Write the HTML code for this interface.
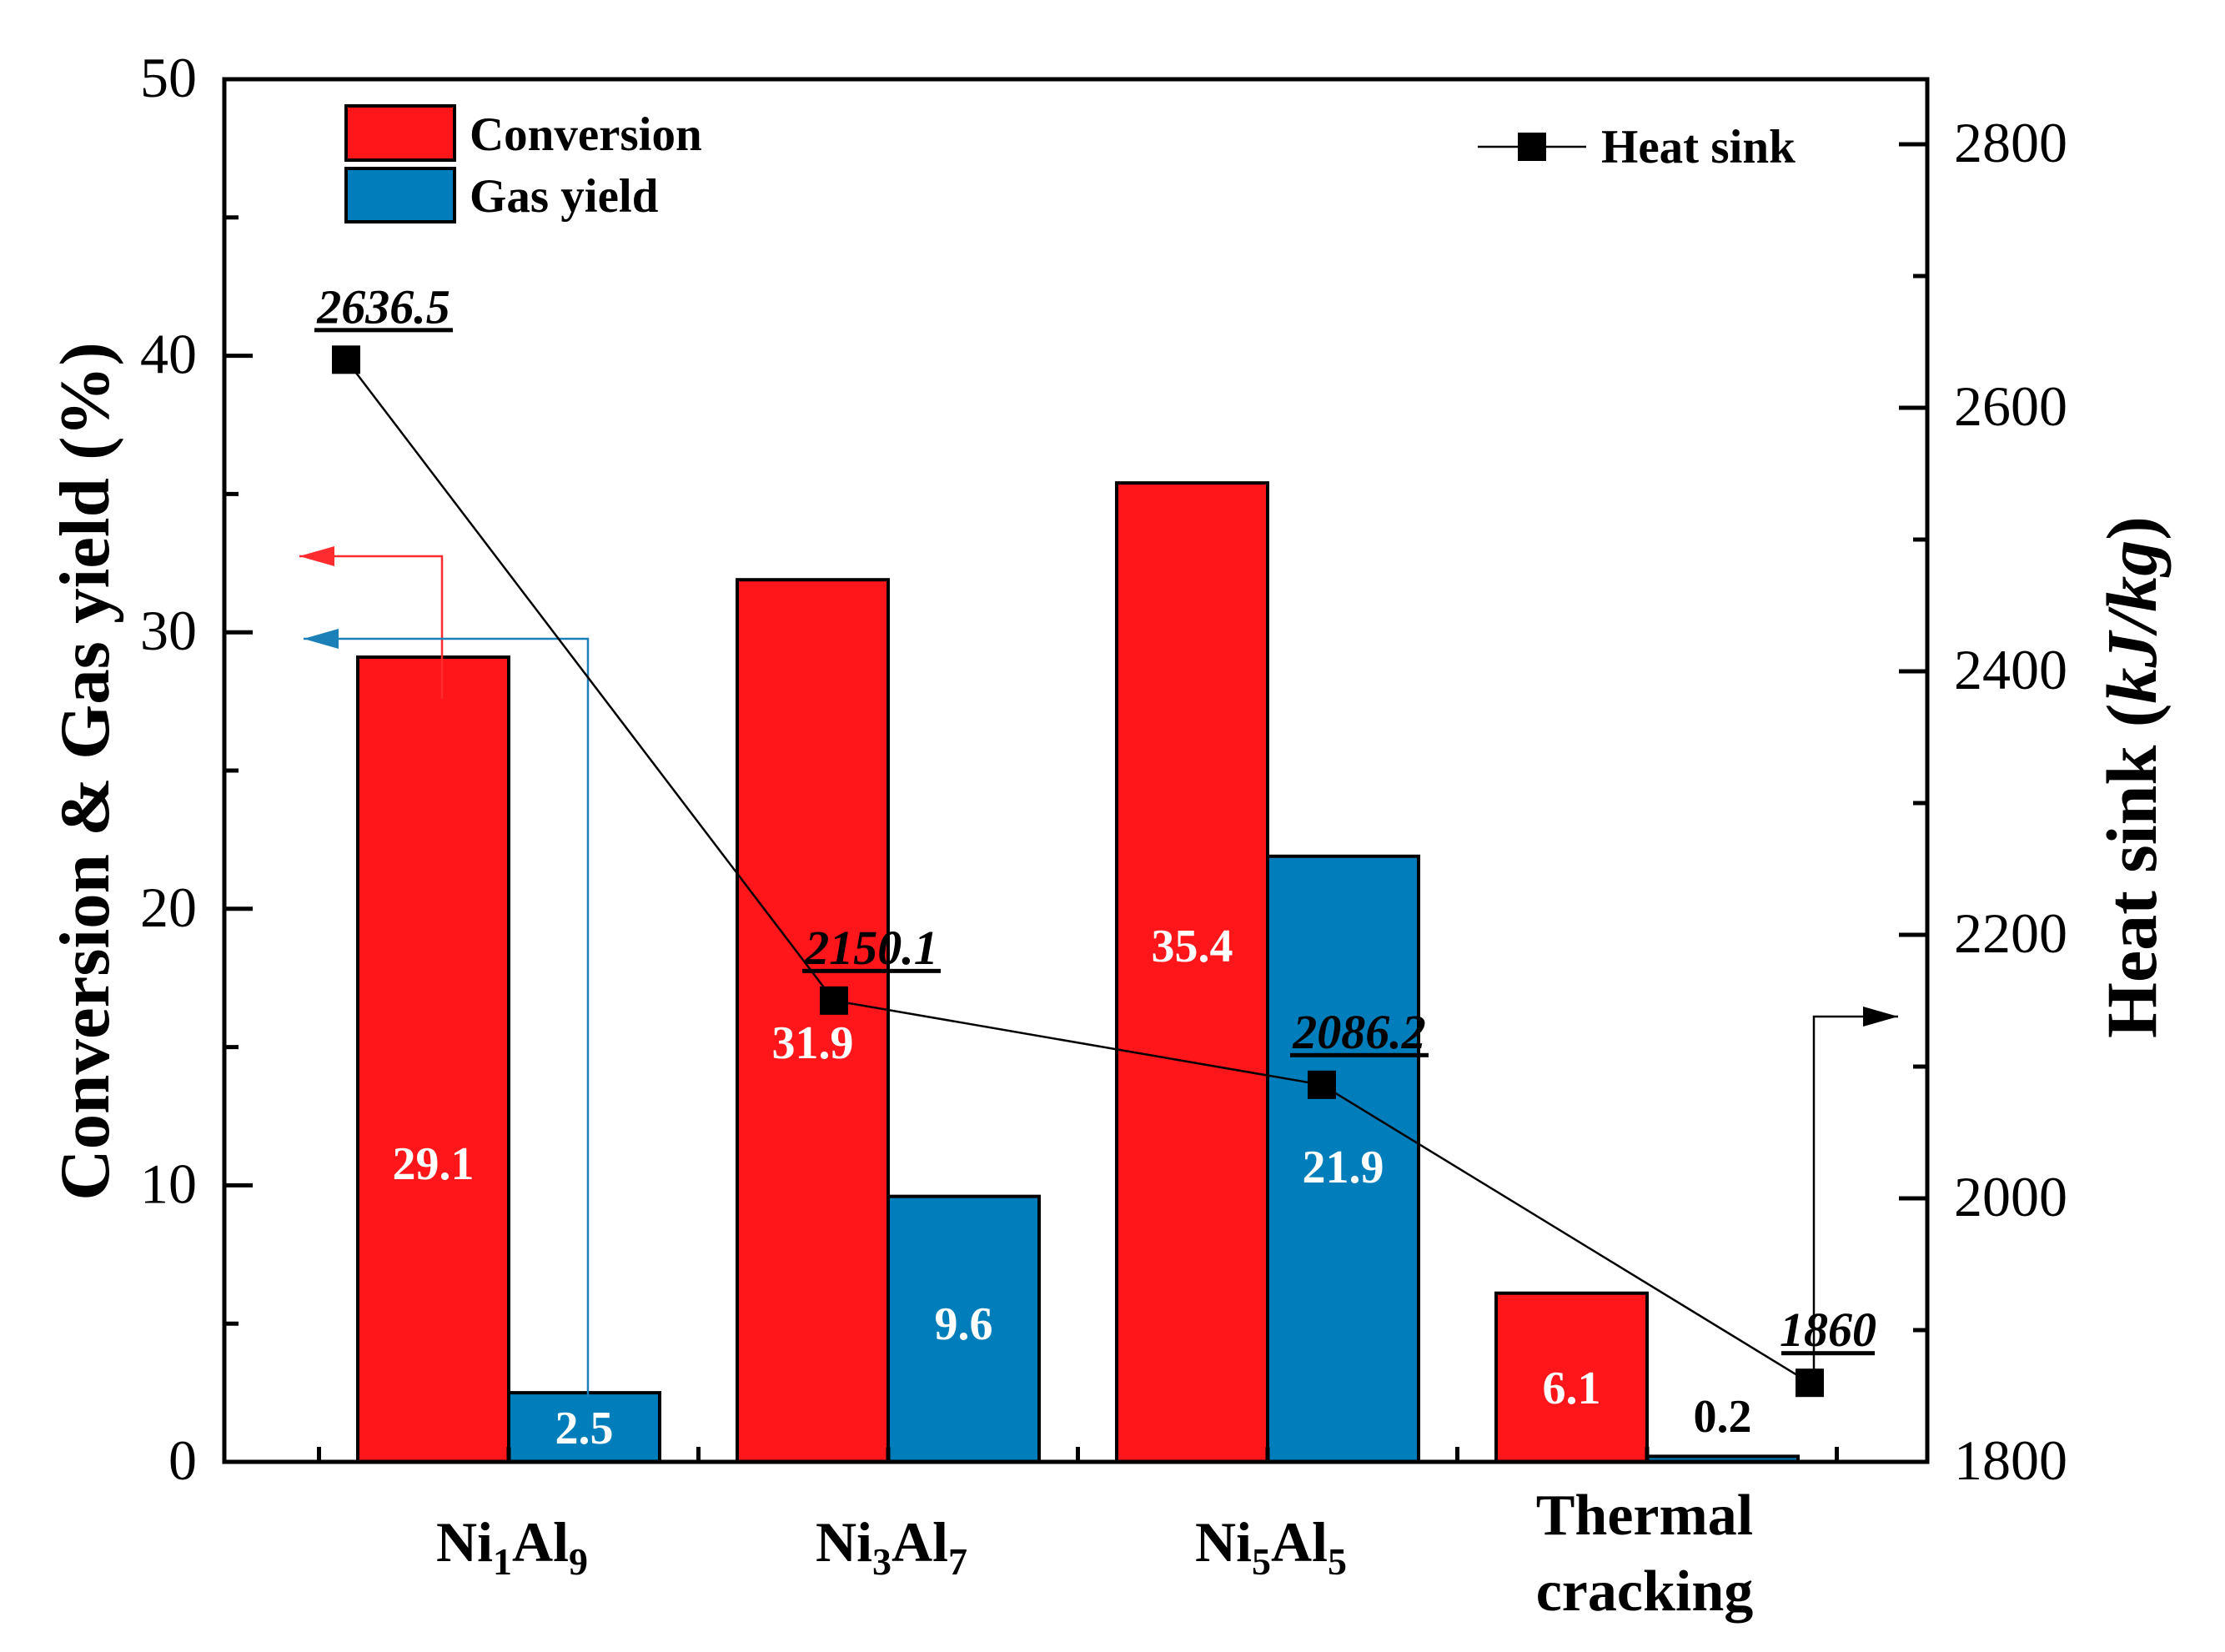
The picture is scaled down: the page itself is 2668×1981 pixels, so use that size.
<!DOCTYPE html>
<html><head><meta charset="utf-8"><style>
html,body{margin:0;padding:0;background:#fff;}
svg{display:block;font-family:"Liberation Serif",serif;}
</style></head><body>
<svg id="chart" width="2668" height="1981" viewBox="0 0 2668 1981">
<g id="g"></g>
</svg>
<script>
const categories = ["Ni1Al9","Ni3Al7","Ni5Al5","Thermal cracking"];
const conversion = [29.1, 31.9, 35.4, 6.1];
const gasYield = [2.5, 9.6, 21.9, 0.2];
const heatSink = [2636.5, 2150.1, 2086.2, 1860];
const heatLabels = ["2636.5","2150.1","2086.2","1860"];
const leftTicks = [0,10,20,30,40,50];
const rightTicks = [1800,2000,2200,2400,2600,2800];

const NS="http://www.w3.org/2000/svg";
const g=document.getElementById('g');
const X0=269, X1=2311, Y0=1753, Y1=95;
function yL(v){return Y0-(v/50)*(Y0-Y1);}
function yR(v){return Y0-(v-1800)/1000*(Y0-173);}
function xC(i){return 610+i*455;}
function xH(i){return 415+i*585;}
function el(t,a,txt){const e=document.createElementNS(NS,t);for(const k in a)e.setAttribute(k,a[k]);if(txt!==undefined)e.textContent=txt;g.appendChild(e);return e;}

const bw=181;
categories.forEach((c,i)=>{
  let r=el('rect',{x:xC(i)-bw,y:yL(conversion[i]),width:bw,height:Y0-yL(conversion[i]),fill:'#fe161b',stroke:'#000','stroke-width':4});
  
  
  let b=el('rect',{x:xC(i),y:yL(gasYield[i]),width:bw,height:Math.max(Y0-yL(gasYield[i]),1),fill:'#007ebb',stroke:'#000','stroke-width':4});
  
  
});
const convLabelY=[1402,1257,1141,1671];
const gasLabelY=[1719,1594,1406,1705];
categories.forEach((c,i)=>{
  let t=el('text',{x:xC(i)-bw/2,y:convLabelY[i]+12,'text-anchor':'middle','font-size':56,'font-weight':'bold',fill:'#fff'},conversion[i].toFixed(1));
  
  
  let u=el('text',{x:xC(i)+bw/2,y:gasLabelY[i]+12,'text-anchor':'middle','font-size':56,'font-weight':'bold',fill:i==3?'#000':'#fff'},gasYield[i].toFixed(1));
  
  
});
function arrow(pts,color,name,dir){
  let p=el('polyline',{points:pts.map(q=>q.join(',')).join(' '),fill:'none',stroke:color,'stroke-width':2.5});
  
  
  const e=pts[pts.length-1];
  let h=dir<0?`${e[0]},${e[1]} ${e[0]+42},${e[1]-12} ${e[0]+42},${e[1]+12}`:`${e[0]},${e[1]} ${e[0]-42},${e[1]-12} ${e[0]-42},${e[1]+12}`;
  let a=el('polygon',{points:h,fill:color});
  
  
}
arrow([[530,838],[530,667],[359,667]],'#fe2b2f','conversion-axis-arrow',-1);
arrow([[705,1676],[705,766],[364,766]],'#1b7fb8','gas-yield-axis-arrow',-1);
arrow([[2175,1642],[2175,1219],[2276,1219]],'#000','heat-sink-axis-arrow',1);
let line=el('polyline',{points:heatSink.map((v,i)=>xH(i)+','+yR(v)).join(' '),fill:'none',stroke:'#000','stroke-width':2.5});


heatSink.forEach((v,i)=>{
  let m=el('rect',{x:xH(i)-17,y:yR(v)-17,width:34,height:34,fill:'#000'});
  
  
  const off=heatLabels[i].length>4?45:22;
  let t=el('text',{x:xH(i)+off,y:yR(v)-44,'text-anchor':'middle','font-size':58,'font-weight':'bold','font-style':'italic',fill:'#000'},heatLabels[i]);
  
  
  let w=heatLabels[i].length*27+4;
  let u=el('rect',{x:xH(i)+off-w/2,y:yR(v)-38,width:w,height:5,fill:'#000'});
  
  
});
let f=el('rect',{x:X0,y:Y1,width:X1-X0,height:Y0-Y1,fill:'none',stroke:'#000','stroke-width':5});


leftTicks.forEach(v=>{
  let tk=el('line',{x1:X0,x2:X0+34,y1:yL(v),y2:yL(v),stroke:'#000','stroke-width':5});
  
  
  if(v<50){let m=el('line',{x1:X0,x2:X0+17,y1:yL(v+5),y2:yL(v+5),stroke:'#000','stroke-width':5});
  }
  let t=el('text',{x:236,y:yL(v)+21,'text-anchor':'end','font-size':68},String(v));
  
  
});
rightTicks.forEach(v=>{
  let tk=el('line',{x1:X1-34,x2:X1,y1:yR(v),y2:yR(v),stroke:'#000','stroke-width':5});
  
  
  if(v<2800){let m=el('line',{x1:X1-17,x2:X1,y1:yR(v+100),y2:yR(v+100),stroke:'#000','stroke-width':5});
  }
  let t=el('text',{x:2343,y:yR(v)+21,'font-size':68},String(v));
  
  
});
for(let k=-1;k<=8;k++){
  const x=382.5+k*227.5; if(x<=X0+5||x>=X1-5)continue;
  let tk=el('line',{x1:x,x2:x,y1:Y0,y2:Y0-18,stroke:'#000','stroke-width':5});
  
  
}
const subs=[["1","9"],["3","7"],["5","5"]];
subs.forEach((s,i)=>{
  let t=el('text',{x:xC(i)+4,y:1872,'text-anchor':'middle','font-size':68,'font-weight':'bold'});
  t.innerHTML=`Ni<tspan font-size="46" dy="16">${s[0]}</tspan><tspan dy="-16">Al</tspan><tspan font-size="46" dy="16">${s[1]}</tspan>`;
  
  
});
let th=el('text',{x:xC(3)-3,y:1840,'text-anchor':'middle','font-size':70,'font-weight':'bold'},'Thermal');


let cr=el('text',{x:xC(3)-3,y:1931,'text-anchor':'middle','font-size':70,'font-weight':'bold'},'cracking');


let lt=el('text',{x:0,y:0,transform:'translate(130,925) rotate(-90)','text-anchor':'middle','font-size':85,'font-weight':'bold'},'Conversion & Gas yield (%)');


let rt=el('text',{x:0,y:0,transform:'translate(2585,932) rotate(-90)','text-anchor':'middle','font-size':86,'font-weight':'bold'});
rt.innerHTML='Heat sink (<tspan font-style="italic">kJ/kg</tspan>)';


let l1=el('rect',{x:415,y:127,width:130,height:65,fill:'#fe161b',stroke:'#000','stroke-width':4});


let l1t=el('text',{x:563,y:180,'font-size':57,'font-weight':'bold'},'Conversion');


let l2=el('rect',{x:415,y:202,width:130,height:64,fill:'#007ebb',stroke:'#000','stroke-width':4});


let l2t=el('text',{x:563,y:254,'font-size':57,'font-weight':'bold'},'Gas yield');


let l3=el('line',{x1:1772,x2:1902,y1:176,y2:176,stroke:'#000','stroke-width':2.5});


let l3m=el('rect',{x:1820,y:159,width:34,height:34,fill:'#000'});


let l3t=el('text',{x:1920,y:195,'font-size':57,'font-weight':'bold'},'Heat sink');


</script>
</body></html>
